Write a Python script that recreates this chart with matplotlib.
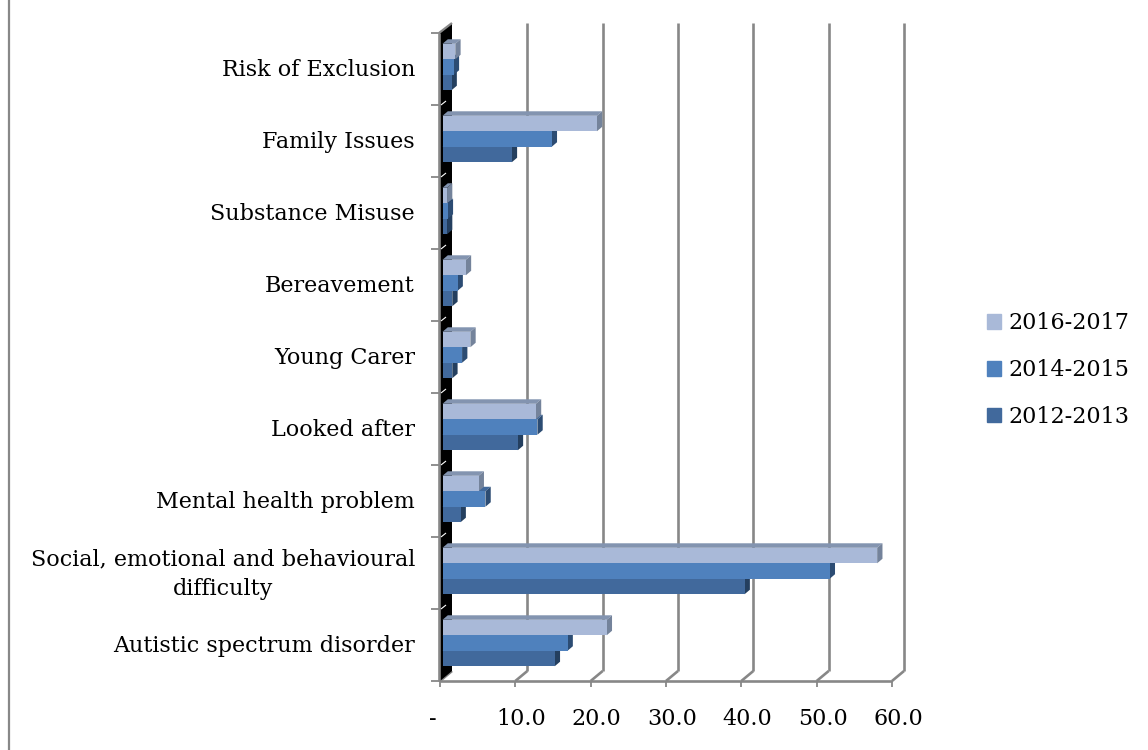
import matplotlib
matplotlib.use("Agg")
import matplotlib.pyplot as plt
from matplotlib.transforms import ScaledTranslation, IdentityTransform
from matplotlib.patches import Polygon, Patch
from matplotlib.lines import Line2D
import numpy as np

# ---- data -------------------------------------------------------------
categories = [
    "Autistic spectrum disorder",
    "Social, emotional and behavioural\ndifficulty",
    "Mental health problem",
    "Looked after",
    "Young Carer",
    "Bereavement",
    "Substance Misuse",
    "Family Issues",
    "Risk of Exclusion",
]
series_names = ["2012-2013", "2014-2015", "2016-2017"]
values_2012_2013 = [14.9, 40.1, 2.4, 10.0, 1.3, 1.3, 0.6, 9.2, 1.2]
values_2014_2015 = [16.6, 51.4, 5.7, 12.6, 2.6, 2.0, 0.7, 14.5, 1.5]
values_2016_2017 = [21.8, 57.7, 4.8, 12.4, 3.7, 3.1, 0.6, 20.5, 1.7]
x_ticks = [0, 10, 20, 30, 40, 50, 60]
x_tick_labels = ["-", "10.0", "20.0", "30.0", "40.0", "50.0", "60.0"]

# ---- styling ----------------------------------------------------------
W, H, DPI = 1148, 750, 100
GRID = "#878787"
# (front, top, side) colours per series
COLORS = {
    "2012-2013": ("#41699C", "#34577F", "#243F5F"),
    "2014-2015": ("#4F81BD", "#41699C", "#2C4C73"),
    "2016-2017": ("#A9B9D8", "#8394B0", "#74839B"),
}
FONT = dict(family="DejaVu Serif", size=16)

fig = plt.figure(figsize=(W / DPI, H / DPI), dpi=DPI)
ax = fig.add_axes([440 / W, 69 / H, 452 / W, 648 / H])
ax.set_xlim(0, 60)
ax.set_ylim(0, len(categories))
ax.axis("off")


def shifted(dx, dy):
    """Data transform moved by (dx, dy) pixels (depth of the 3-D box)."""
    return ax.transData + ScaledTranslation(dx / DPI, dy / DPI, fig.dpi_scale_trans)


DEPTH = np.array([12.0, 10.0])
back = shifted(*DEPTH)
front = ax.transData
ymax = len(categories)


def disp_line(p, q, **kw):
    ln = Line2D([p[0], q[0]], [p[1], q[1]], transform=IdentityTransform(),
                clip_on=False, solid_capstyle="butt", **kw)
    ax.add_artist(ln)


def disp_poly(pts, **kw):
    pg = Polygon(np.asarray(pts), closed=True, transform=IdentityTransform(),
                 clip_on=False, **kw)
    ax.add_artist(pg)


# back wall gridlines and floor diagonals
for v in x_ticks:
    if v > 0:
        ax.plot([v, v], [0, ymax], transform=back, color=GRID, lw=1.9,
                solid_capstyle="butt", clip_on=False, zorder=1)
    p0 = front.transform((v, 0))
    p1 = back.transform((v, 0))
    disp_line(p0, p1, color=GRID, lw=1.9, zorder=1)
    # tick mark below the front edge
    disp_line(p0, p0 - np.array([0, 6]), color=GRID, lw=1.3, zorder=1)

# front floor edge
disp_line(front.transform((0, 0)), front.transform((60, 0)), color=GRID, lw=1.9, zorder=2)

# black side wall
w0, w1 = front.transform((0, 0)), front.transform((0, ymax))
w2, w3 = back.transform((0, ymax)), back.transform((0, 0))
disp_poly([w0, w1, w2, w3], facecolor="black", edgecolor="none", zorder=1.5)
disp_line(w0 + [-1, 0], w1 + [-1, 0], color=GRID, lw=1.9, zorder=1.6)
disp_line(w1 + [-1, 0], w2, color=GRID, lw=1.6, zorder=1.6)

# category boundary ticks
for k in range(ymax + 1):
    p = front.transform((0, k))
    disp_line(p - np.array([9, 0]), p, color=GRID, lw=1.3, zorder=1.6)
    if 0 < k < ymax:
        disp_line(p + [1, 0], p + [6, 4], color="white", lw=0.8, zorder=1.7)

# bars: front faces via barh, top/side faces as extruded parallelograms
BAR_H = 0.215
BAR_OFF = (2.5, 2.0)
BAR_DEPTH = np.array([5.3, 4.5])
bar_front = shifted(*BAR_OFF)
ypos = np.arange(len(categories)) + 0.5
all_vals = [values_2012_2013, values_2014_2015, values_2016_2017]

for j, (name, vals) in enumerate(zip(series_names, all_vals)):
    cf, ct, cs = COLORS[name]
    yc = ypos + (j - 1) * BAR_H
    bars = ax.barh(yc, vals, height=BAR_H, left=0, color=cf, linewidth=0,
                   transform=bar_front, label=name, clip_on=False)
    for k, (rect, v) in enumerate(zip(bars, vals)):
        z = 3 + (k * 3 + j)
        rect.set_zorder(z + 0.5)
        y0, y1 = yc[k] - BAR_H / 2, yc[k] + BAR_H / 2
        a = bar_front.transform((v, y0))
        b = bar_front.transform((v, y1))
        c = bar_front.transform((0, y1))
        disp_poly([c, b, b + BAR_DEPTH, c + BAR_DEPTH], facecolor=ct,
                  edgecolor="none", zorder=z)
        disp_poly([a, b, b + BAR_DEPTH, a + BAR_DEPTH], facecolor=cs,
                  edgecolor="none", zorder=z)

# category labels
lab_t = shifted(-25, -1)
for y, lab in zip(ypos, categories):
    ax.text(0, y, lab, transform=lab_t, ha="right", va="center",
            multialignment="center", linespacing=1.45, **FONT)

# value axis labels, centred between front and back floor ticks
for v, lab in zip(x_ticks, x_tick_labels):
    dx = -7 if lab == "-" else DEPTH[0] / 2
    ax.text(v, 0, lab, transform=shifted(dx, -38), ha="center", va="center",
            **FONT)

# legend
handles = [Patch(color=COLORS[n][0]) for n in series_names[::-1]]
fig.legend(handles, series_names[::-1], loc="center left",
           bbox_to_anchor=(987 / W, (750 - 370) / H), frameon=False,
           prop=FONT, handlelength=0.65, handleheight=0.65,
           handletextpad=0.3, labelspacing=1.12, borderpad=0,
           borderaxespad=0)

# chart-area border on the left
fig.add_artist(Line2D([8.5 / W, 8.5 / W], [0, 1], transform=fig.transFigure,
                      color="#888888", lw=1.6))

fig.savefig("out.png", dpi=DPI)
